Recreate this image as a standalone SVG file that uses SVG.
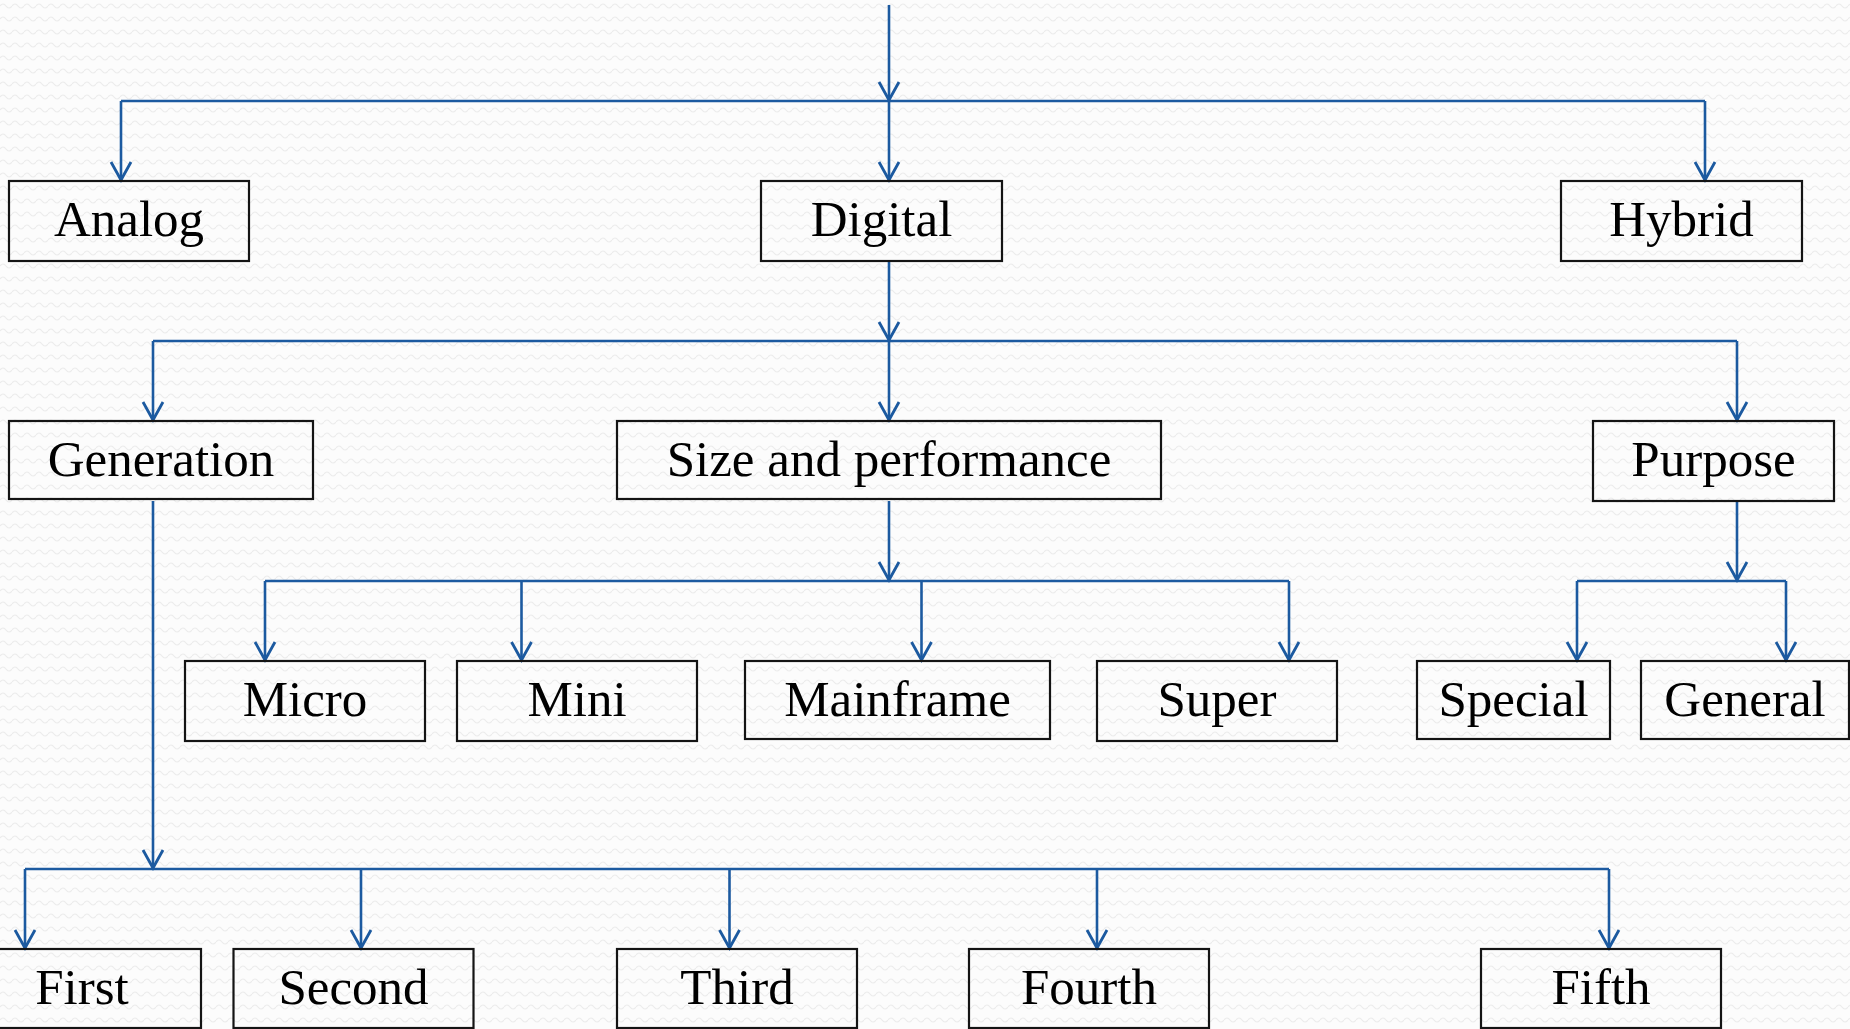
<svg xmlns="http://www.w3.org/2000/svg" width="1850" height="1029" viewBox="0 0 1850 1029">
  <defs>
    <!-- faint wavy paper texture -->
    <pattern id="bg-wave" width="12" height="13" patternUnits="userSpaceOnUse">
      <rect width="12" height="13" fill="#fcfcfc"/>
      <path d="M0,6 Q3,2 6,6 T12,6" fill="none" stroke="#ececec" stroke-width="1.2"/>
    </pattern>
    <!-- open V arrowhead -->
    <marker id="arrow" markerUnits="userSpaceOnUse" markerWidth="26" markerHeight="26"
            viewBox="-22 -13 26 26" refX="0" refY="0" orient="auto">
      <path d="M-18,-10 L0,0 L-18,10" fill="none" stroke="#1c5aa0" stroke-width="2.8"/>
    </marker>
    <style>
      .box { fill: none; stroke: #141414; stroke-width: 2.2; }
      .label { font-family: "Liberation Serif", "Times New Roman", serif; font-size: 51px; fill: #000; text-anchor: middle; }
      .wire { fill: none; stroke: #1c5aa0; stroke-width: 2.6; }
      .arrow { fill: none; stroke: #1c5aa0; stroke-width: 2.6; marker-end: url(#arrow); }
    </style>
  </defs>

  <rect width="1850" height="1029" fill="url(#bg-wave)"/>

  <g id="connectors">
    <!-- root into the first split -->
    <line class="arrow" x1="889" y1="5" x2="889" y2="100"/>
    <line class="wire" x1="121" y1="101" x2="1705" y2="101"/>
    <line class="arrow" x1="121" y1="101" x2="121" y2="180"/>
    <line class="arrow" x1="889" y1="101" x2="889" y2="180"/>
    <line class="arrow" x1="1705" y1="101" x2="1705" y2="180"/>

    <!-- Digital split -->
    <line class="arrow" x1="889" y1="261" x2="889" y2="340"/>
    <line class="wire" x1="153" y1="341" x2="1737" y2="341"/>
    <line class="arrow" x1="153" y1="341" x2="153" y2="420"/>
    <line class="arrow" x1="889" y1="341" x2="889" y2="420"/>
    <line class="arrow" x1="1737" y1="341" x2="1737" y2="420"/>

    <!-- Size and performance split -->
    <line class="arrow" x1="889" y1="501" x2="889" y2="580"/>
    <line class="wire" x1="265" y1="581" x2="1289" y2="581"/>
    <line class="arrow" x1="265" y1="581" x2="265" y2="660"/>
    <line class="arrow" x1="521.5" y1="581" x2="521.5" y2="660"/>
    <line class="arrow" x1="921.5" y1="581" x2="921.5" y2="660"/>
    <line class="arrow" x1="1289" y1="581" x2="1289" y2="660"/>

    <!-- Purpose split -->
    <line class="arrow" x1="1737" y1="501" x2="1737" y2="580"/>
    <line class="wire" x1="1577" y1="581" x2="1786" y2="581"/>
    <line class="arrow" x1="1577" y1="581" x2="1577" y2="660"/>
    <line class="arrow" x1="1786" y1="581" x2="1786" y2="660"/>

    <!-- Generation split -->
    <line class="arrow" x1="153" y1="501" x2="153" y2="868"/>
    <line class="wire" x1="25" y1="869" x2="1609" y2="869"/>
    <line class="arrow" x1="25" y1="869" x2="25" y2="948"/>
    <line class="arrow" x1="361" y1="869" x2="361" y2="948"/>
    <line class="arrow" x1="729.5" y1="869" x2="729.5" y2="948"/>
    <line class="arrow" x1="1097" y1="869" x2="1097" y2="948"/>
    <line class="arrow" x1="1609" y1="869" x2="1609" y2="948"/>
  </g>

  <g id="analog"><rect class="box" x="9" y="181" width="240" height="80"/><text class="label" x="129" y="236">Analog</text></g>
  <g id="digital"><rect class="box" x="761" y="181" width="241" height="80"/><text class="label" x="881.5" y="236">Digital</text></g>
  <g id="hybrid"><rect class="box" x="1561" y="181" width="241" height="80"/><text class="label" x="1681.5" y="236">Hybrid</text></g>

  <g id="generation"><rect class="box" x="9" y="421" width="304" height="78"/><text class="label" x="161" y="476">Generation</text></g>
  <g id="size-performance"><rect class="box" x="617" y="421" width="544" height="78"/><text class="label" x="889" y="476">Size and performance</text></g>
  <g id="purpose"><rect class="box" x="1593" y="421" width="241" height="80"/><text class="label" x="1713.5" y="476">Purpose</text></g>

  <g id="micro"><rect class="box" x="185" y="661" width="240" height="80"/><text class="label" x="305" y="716">Micro</text></g>
  <g id="mini"><rect class="box" x="457" y="661" width="240" height="80"/><text class="label" x="577" y="716">Mini</text></g>
  <g id="mainframe"><rect class="box" x="745" y="661" width="305" height="78"/><text class="label" x="897.5" y="716">Mainframe</text></g>
  <g id="super"><rect class="box" x="1097" y="661" width="240" height="80"/><text class="label" x="1217" y="716">Super</text></g>
  <g id="special"><rect class="box" x="1417" y="661" width="193" height="78"/><text class="label" x="1513.5" y="716">Special</text></g>
  <g id="general"><rect class="box" x="1641" y="661" width="208" height="78"/><text class="label" x="1745" y="716">General</text></g>

  <g id="first"><rect class="box" x="-37" y="949" width="238" height="79"/><text class="label" x="82" y="1004">First</text></g>
  <g id="second"><rect class="box" x="233.5" y="949" width="240" height="79"/><text class="label" x="353.5" y="1004">Second</text></g>
  <g id="third"><rect class="box" x="617" y="949" width="240" height="79"/><text class="label" x="737" y="1004">Third</text></g>
  <g id="fourth"><rect class="box" x="969" y="949" width="240" height="79"/><text class="label" x="1089" y="1004">Fourth</text></g>
  <g id="fifth"><rect class="box" x="1481" y="949" width="240" height="79"/><text class="label" x="1601" y="1004">Fifth</text></g>
</svg>
